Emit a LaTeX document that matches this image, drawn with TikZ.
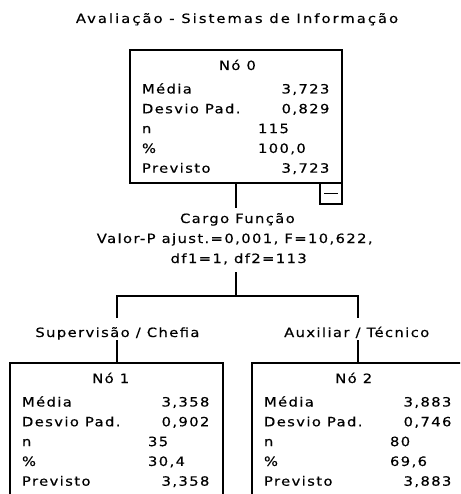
\documentclass[tikz,border=0pt]{standalone}
\usepackage{fontspec}
\setmainfont{DejaVu Sans}[LetterSpace=11,FakeStretch=1.15,FakeBold=0.4]
\newfontfamily\titlefont{DejaVu Sans}[LetterSpace=16,FakeStretch=1.15,FakeBold=0.4]
\newcommand\chaidrows[8]{%
  \node[ctr] (#1-t) at (#3+0.7,20) {#4};
  \node[txt] (#1-a) at (12,43.5) {Média};
  \node[val] (#1-av) at (199.4,43.5) {#5};
  \node[txt] (#1-b) at (12,63.3) {Desvio Pad.};
  \node[val] (#1-bv) at (199.4,63.3) {#6};
  \node[txt] (#1-c) at (12,83.1) {n};
  \node[txt] (#1-cv) at (#2,83.1) {#7};
  \node[txt] (#1-d) at (12,102.9) {\%};
  \node[txt] (#1-dv) at (#2,102.9) {#8};
  \node[txt] (#1-e) at (12,122.7) {Previsto};
  \node[val] (#1-ev) at (199.4,122.7) {#5};
}
\begin{document}
\begin{tikzpicture}[x=1pt,y=-1pt,line width=1.2pt,
  every node/.style={font=\fontsize{12.8pt}{20pt}\selectfont,inner sep=0pt,outer sep=0pt},
  boxn/.style={draw,anchor=north west,minimum width=213pt,minimum height=150pt},
  txt/.style={anchor=base west},
  val/.style={anchor=base east},
  ctr/.style={anchor=base},
  lbl/.style={anchor=base,text height=9pt,text depth=0pt}]
\useasboundingbox (0,0) rectangle (460,494);
\clip (0,0) rectangle (460,494);
\fill[white] (0,0) rectangle (460,494);
% title
\node[ctr,font=\titlefont\fontsize{12.8pt}{20pt}\selectfont] (ttl) at (237,23) {Avaliação - Sistemas de Informação};
% root node
\node[draw,anchor=north west,minimum width=212pt,minimum height=133pt] (n0) at (130,50) {};
\begin{scope}[shift={(130,50)}]
  \chaidrows{r0}{128}{106.7}{Nó 0}{3,723}{0,829}{115}{100,0}
\end{scope}
\node[draw,anchor=north east,minimum width=22pt,minimum height=21pt,
  path picture={\draw[line width=1.2pt] ([xshift=-7pt]path picture bounding box.center) -- ([xshift=7pt]path picture bounding box.center);}]
  (mn) at (n0.south east) {};
% split text
\node[lbl,inner ysep=6pt] (l1) at (237.4,223) {Cargo Função};
\node[lbl] (l2) at (234.7,243) {Valor-P ajust.=0,001, F=10,622,};
\node[lbl,inner ysep=9pt] (l3) at (238.7,263) {df1=1, df2=113};
% bus
\coordinate (bus) at (236,296);
\coordinate (busL) at (117,296);
\coordinate (busR) at (358,296);
\draw (n0.south) -- (n0.south |- l1.north);
\draw (n0.south |- l3.south) -- (bus);
% branch labels
\node[anchor=base,text height=19pt,text depth=3pt] (b1) at (117.4,337) {Supervisão / Chefia};
\node[anchor=base,text height=19pt,text depth=3pt] (b2) at (356.7,337) {Auxiliar / Técnico};
\draw (busL |- b1.north) -- (busL) -- (busR) -- (busR |- b2.north);
% child nodes
\node[boxn] (n1) at (10,363) {};
\node[boxn] (n2) at (252,363) {};
\draw (busL |- b1.south) -- (busL |- n1.north);
\draw (busR |- b2.south) -- (busR |- n2.north);
\begin{scope}[shift={(10,363)}]
  \chaidrows{r1}{138}{100}{Nó 1}{3,358}{0,902}{35}{30,4}
\end{scope}
\begin{scope}[shift={(252,363)}]
  \chaidrows{r2}{138}{101}{Nó 2}{3,883}{0,746}{80}{69,6}
\end{scope}
\end{tikzpicture}
\end{document}
